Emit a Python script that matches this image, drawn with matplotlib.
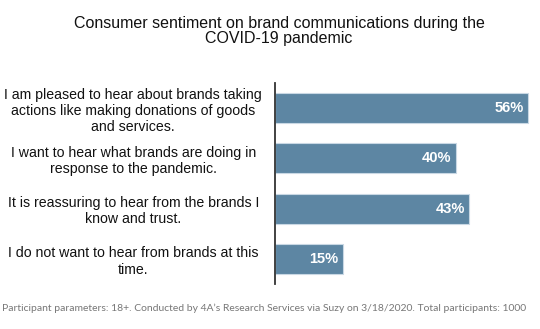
import matplotlib
matplotlib.use("Agg")
import matplotlib.pyplot as plt

statements = [
    "I am pleased to hear about brands taking\nactions like making donations of goods\nand services.",
    "I want to hear what brands are doing in\nresponse to the pandemic.",
    "It is reassuring to hear from the brands I\nknow and trust.",
    "I do not want to hear from brands at this\ntime.",
]
shares = [56, 40, 43, 15]

plt.rcParams['font.family'] = ['Liberation Sans', 'DejaVu Sans']

fig = plt.figure(figsize=(5.4, 3.29), dpi=100)
ax = fig.add_axes([275 / 540, 1 - 284 / 329, 1 - 275 / 540, 201 / 329])

ypos = list(range(len(shares)))
bars = ax.barh(ypos, shares, height=0.6, color='#5D86A3',
               edgecolor='#C9D8E4', linewidth=0.8)

for y, v in zip(ypos, shares):
    ax.text(v - 1.0, y, f"{v}%", ha='right', va='center', color='white',
            fontsize=10.5, fontweight='bold')

ax.set_xlim(0, 58.6)
ax.set_ylim(len(shares) - 0.5, -0.5)
ax.set_yticks(ypos)
ax.set_yticklabels(statements, ha='center', multialignment='center',
                   fontsize=10.2, color='#111111')
ax.tick_params(axis='y', length=0, pad=102)
ax.set_xticks([])
for s in ['top', 'right', 'bottom']:
    ax.spines[s].set_visible(False)
ax.spines['left'].set_color('#333333')
ax.spines['left'].set_linewidth(1.3)

fig.text(0.517, 0.952, "Consumer sentiment on brand communications during the\nCOVID-19 pandemic",
         ha='center', va='top', fontsize=11.5, color='#111111', linespacing=1.05)

fig.text(0.004, 0.062, "Participant parameters: 18+. Conducted by 4A\u2019s Research Services via Suzy on 3/18/2020. Total participants: 1000",
         ha='left', va='center', fontsize=7.5, color='#777777', family=['Lato', 'DejaVu Sans'])

fig.savefig("out.png", dpi=100)
